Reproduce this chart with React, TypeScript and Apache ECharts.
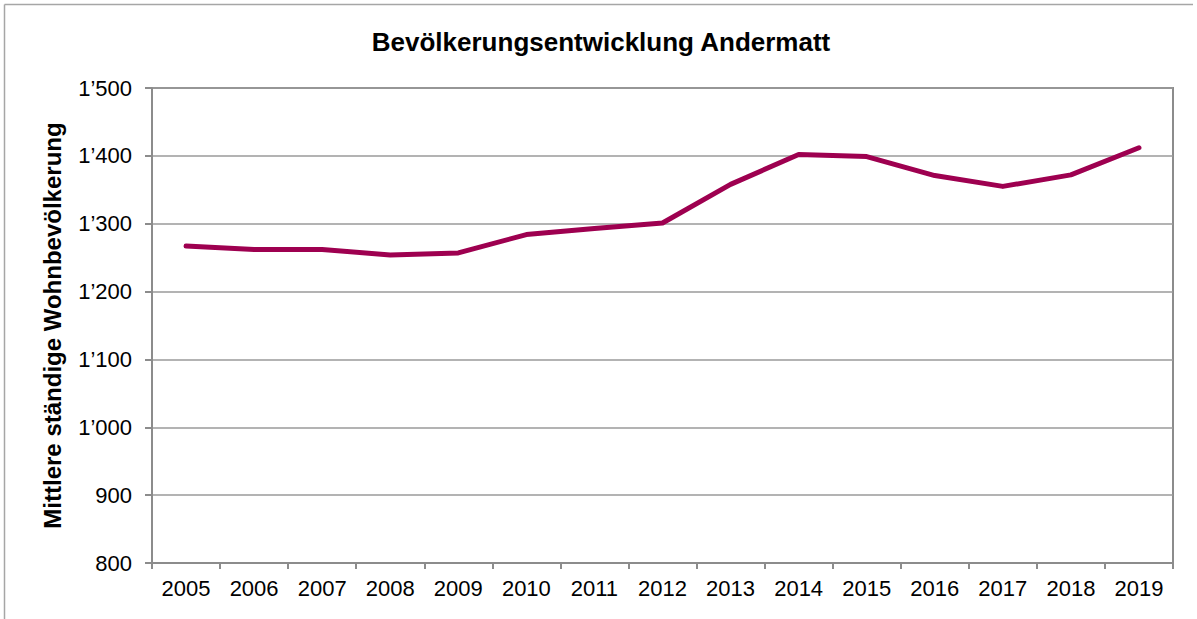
import React, { useEffect, useRef } from "react";
import * as echarts from "echarts";

const years = ["2005","2006","2007","2008","2009","2010","2011","2012","2013","2014","2015","2016","2017","2018","2019"];
const population = [1267, 1262, 1262, 1254, 1257, 1284, 1293, 1301, 1358, 1402, 1399, 1371, 1355, 1372, 1412];
const titleText = "Bevölkerungsentwicklung Andermatt";
const yAxisTitle = "Mittlere ständige Wohnbevölkerung";

const FONT = "'Liberation Sans', Arial, sans-serif";

function fmt(v: number): string {
  const s = String(Math.round(v));
  return s.replace(/\B(?=(\d{3})+(?!\d))/g, "\u2019");
}

export default function App() {
  const ref = useRef<HTMLDivElement>(null);
  useEffect(() => {
    if (!ref.current) return;
    const chart = echarts.init(ref.current, undefined, { renderer: "svg" });
    chart.setOption({
      animation: false,
      backgroundColor: "#ffffff",
      grid: { left: 152, right: 24, top: 88, bottom: 56, show: true, borderColor: "#8c8c8c", borderWidth: 2 },
      graphic: [
        { type: "line", shape: { x1: 4.5, y1: 4.5, x2: 1193, y2: 4.5 }, style: { stroke: "#a6a6a6", lineWidth: 1.5 } },
        { type: "line", shape: { x1: 4.5, y1: 4.5, x2: 4.5, y2: 619 }, style: { stroke: "#a6a6a6", lineWidth: 1.5 } },
        {
          type: "text",
          x: 601,
          y: 42,
          style: {
            text: titleText,
            font: `bold 26px ${FONT}`,
            fill: "#000",
            textAlign: "center",
            textVerticalAlign: "middle",
          },
        },
      ],
      xAxis: {
        type: "category",
        data: years,
        boundaryGap: true,
        axisLine: { lineStyle: { color: "#8c8c8c", width: 2 } },
        axisTick: { show: true, length: 6, lineStyle: { color: "#8c8c8c", width: 2 } },
        axisLabel: { color: "#000", fontSize: 22, fontFamily: FONT, margin: 14, interval: 0 },
        splitLine: { show: false },
      },
      yAxis: {
        type: "value",
        min: 800,
        max: 1500,
        interval: 100,
        name: yAxisTitle,
        nameLocation: "middle",
        nameGap: 88,
        nameTextStyle: { color: "#000", fontSize: 24, fontWeight: "bold", fontFamily: FONT },
        axisLine: { show: true, lineStyle: { color: "#8c8c8c", width: 2 } },
        axisTick: { show: true, length: 7, lineStyle: { color: "#8c8c8c", width: 2 } },
        axisLabel: { color: "#000", fontSize: 22, fontFamily: FONT, margin: 20, formatter: (v: number) => fmt(v) },
        splitLine: { show: true, lineStyle: { color: "#9a9a9a", width: 1.5 } },
      },
      series: [
        {
          type: "line",
          data: population,
          symbol: "none",
          lineStyle: { color: "#9e0050", width: 5, cap: "round", join: "round" },
        },
      ],
    });
    return () => chart.dispose();
  }, []);
  return <div ref={ref} style={{ position: "fixed", left: 0, top: 0, width: 1197, height: 619 }} />;
}
